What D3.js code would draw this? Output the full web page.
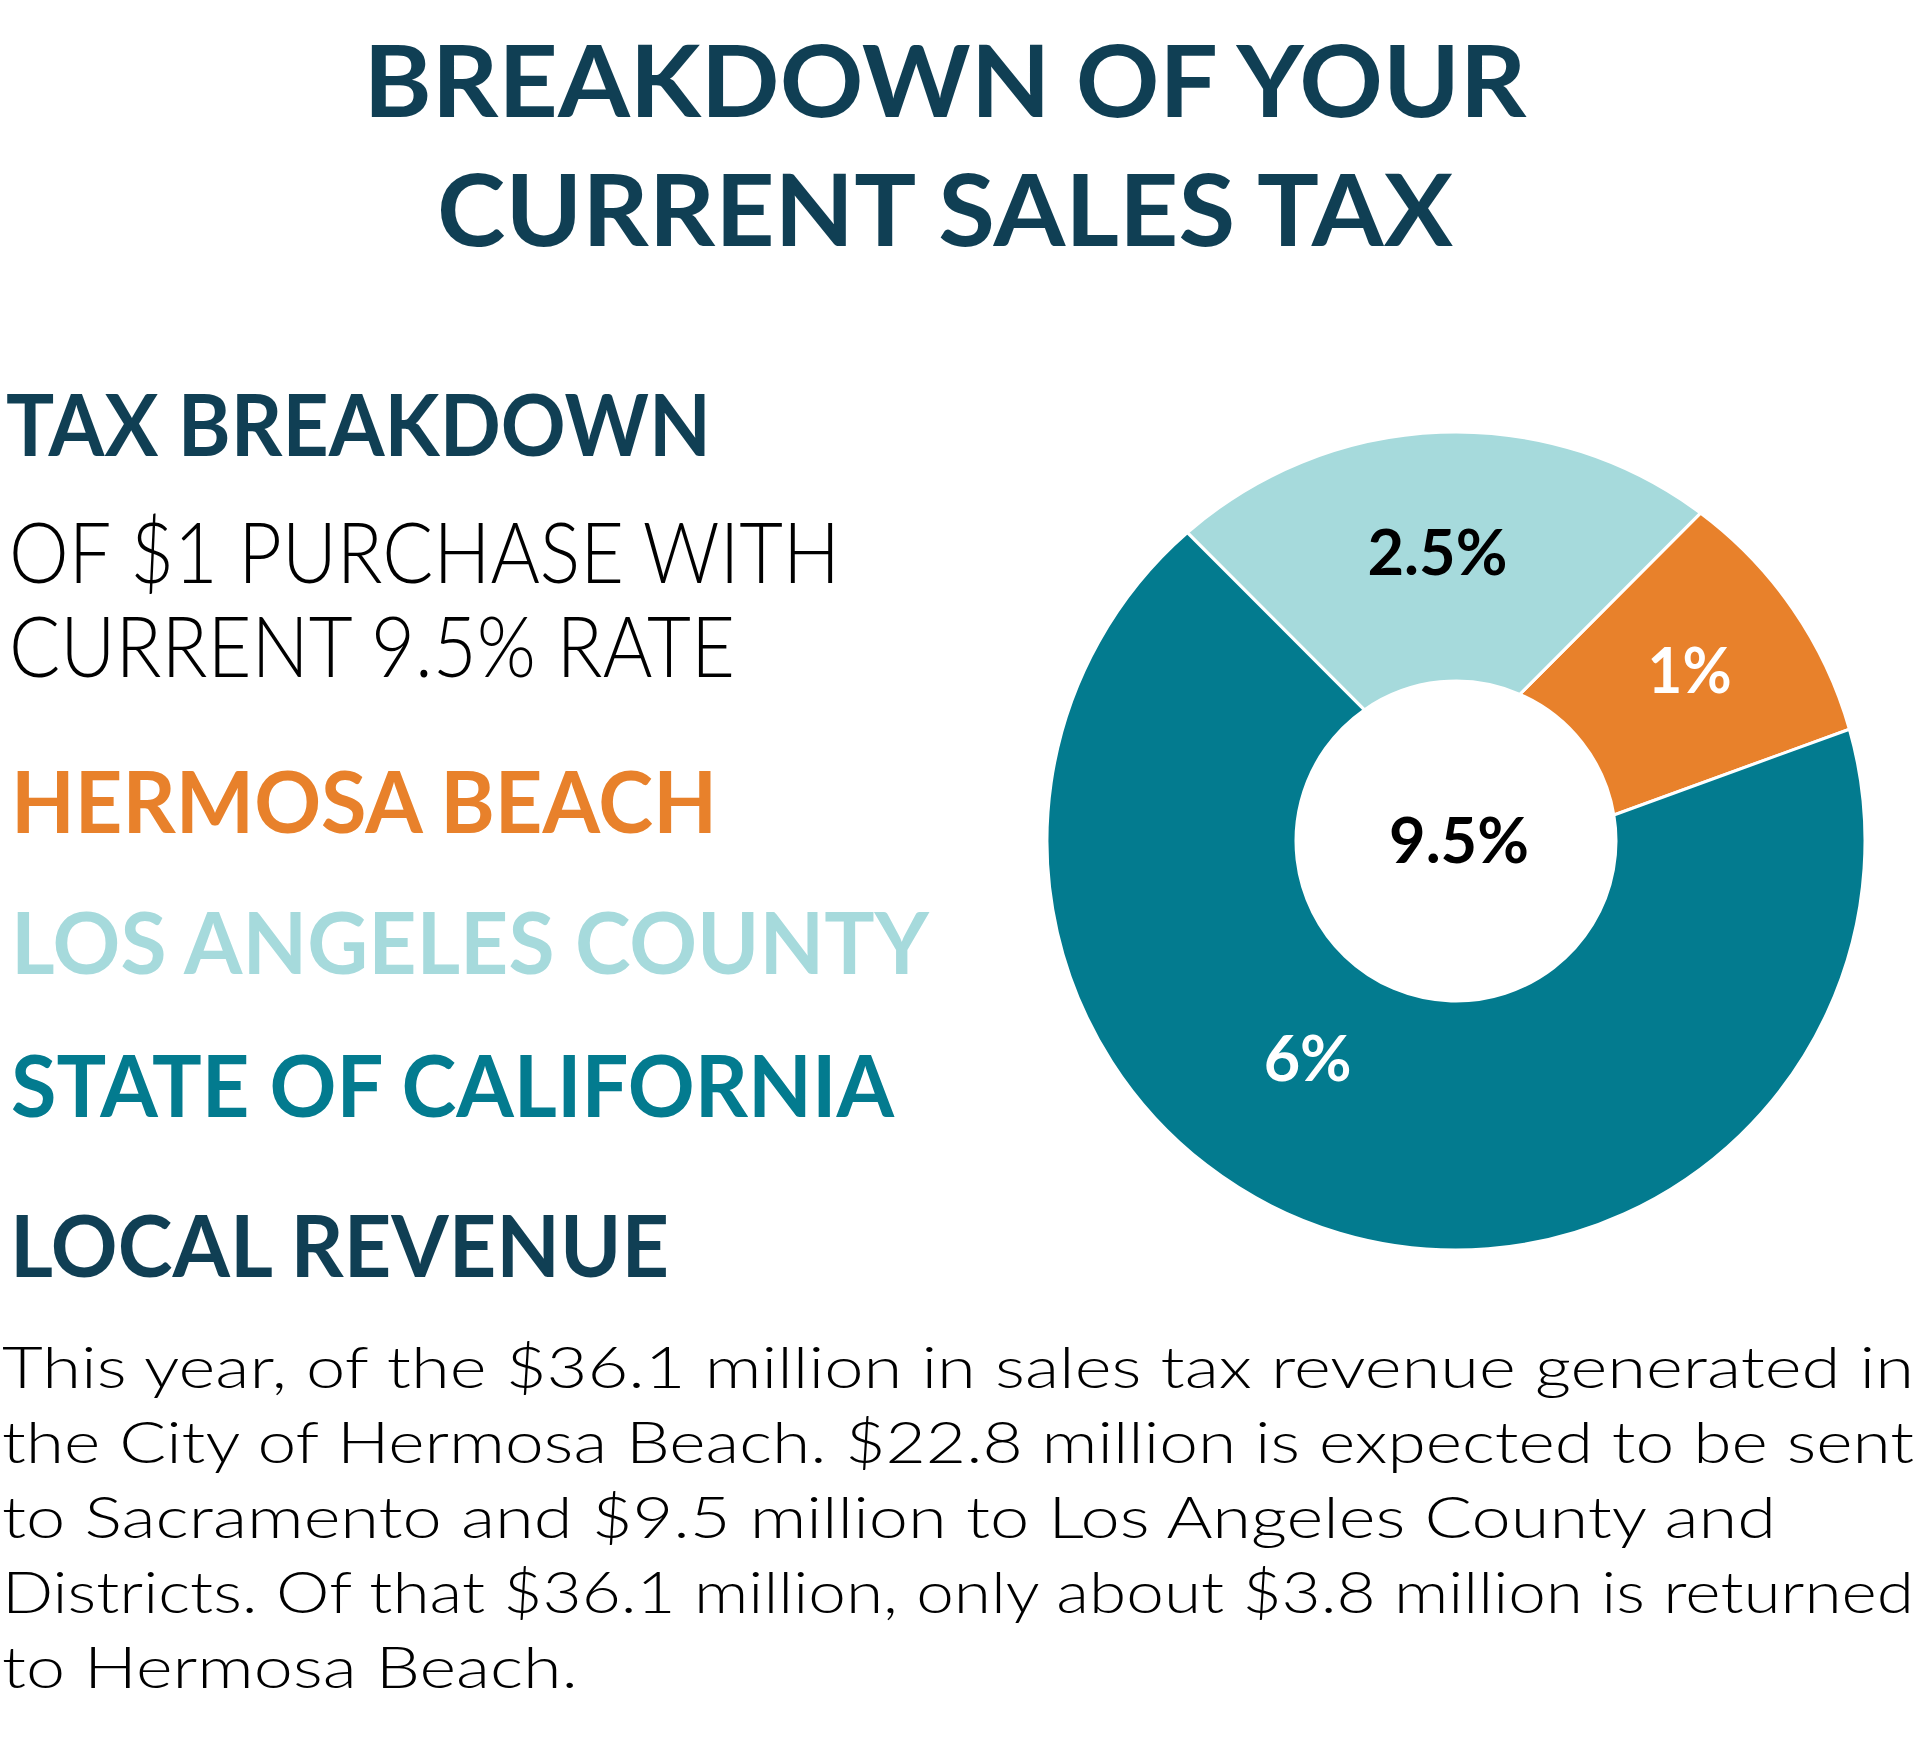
<!DOCTYPE html>
<html>
<head>
<meta charset="utf-8">
<script src="https://cdn.jsdelivr.net/npm/d3@7"></script>
<style>
    body { margin: 0; background: #ffffff; }
    svg { display: block; }
    text { font-family: Lato, "Open Sans", sans-serif; }
</style>
</head>
<body>
<svg id="chart"></svg>
<script>
// data
const categories = ["Hermosa Beach", "Los Angeles County", "State of California"];
const rateLabels = ["1%", "2.5%", "6%"];
// share of the ring each slice takes at its outer edge, as drawn (percent of full circle)
const sliceShares = [10.4, 21.6, 68.0];
const totalRate = "9.5%";
const sliceColors = ["#e8812b", "#a6dadc", "#037b8f"];
const labelColors = ["#ffffff", "#000000", "#ffffff"];
// order of slices going clockwise round the ring
const drawOrder = ["Hermosa Beach", "State of California", "Los Angeles County"];

const titleLines = ["BREAKDOWN OF YOUR", "CURRENT SALES TAX"];
const legendTitle = "TAX BREAKDOWN";
const legendSubLines = ["OF $1 PURCHASE WITH", "CURRENT 9.5% RATE"];
const legendNames = ["HERMOSA BEACH", "LOS ANGELES COUNTY", "STATE OF CALIFORNIA"];
const revenueTitle = "LOCAL REVENUE";
const revenueLines = [
    "This year, of the $36.1 million in sales tax revenue generated in",
    "the City of Hermosa Beach. $22.8 million is expected to be sent",
    "to Sacramento and $9.5 million to Los Angeles County and",
    "Districts. Of that $36.1 million, only about $3.8 million is returned",
    "to Hermosa Beach."
];

const W = 1920, H = 1757;
const navy = "#103f54";

const svg = d3.select("#chart").attr("width", W).attr("height", H);

// helper: put one line of text, squeezed to the width it has in the picture
function addText(g, str, x, y, size, weight, color, len, anchor) {
    return g.append("text")
        .attr("x", x)
        .attr("y", y)
        .attr("font-size", size)
        .attr("font-weight", weight)
        .attr("fill", color)
        .attr("text-anchor", anchor || "start")
        .attr("textLength", len)
        .attr("lengthAdjust", "spacingAndGlyphs")
        .text(str);
}

// Title
const title = svg.append("g").attr("class", "title");
addText(title, titleLines[0], 945, 117, 99, 700, navy, 1163, "middle");
addText(title, titleLines[1], 945, 246, 99, 700, navy, 1016, "middle");

// Left column: legend
const legend = svg.append("g").attr("class", "legend");
addText(legend, legendTitle, 6, 456, 86, 700, navy, 705);
addText(legend, legendSubLines[0], 9, 583, 84, 300, "#000000", 831);
addText(legend, legendSubLines[1], 9, 677, 84, 300, "#000000", 726);

const legendBase = [833, 974, 1117];
const legendLen = [706, 918, 883];
legendNames.forEach(function (name, i) {
    addText(legend, name, 11, legendBase[i], 86, 700, sliceColors[i], legendLen[i]);
});

// Local revenue paragraph
const revenue = svg.append("g").attr("class", "revenue");
addText(revenue, revenueTitle, 10, 1277, 86, 700, navy, 659);
const bodyLen = [1912, 1912, 1774, 1912, 576];
revenueLines.forEach(function (line, i) {
    addText(revenue, line, 2, 1388 + i * 75, 58, 300, "#000000", bodyLen[i]);
});

// Donut
const cx = 1456, cy = 841;
const outerR = 409, innerR = 160;
const rad = Math.PI / 180;

const slices = categories.map(function (c, i) {
    return { name: c, share: sliceShares[i], color: sliceColors[i], label: rateLabels[i], labelColor: labelColors[i] };
});

const startDeg = 36.7;
const pie = d3.pie()
    .value(d => d.share)
    .sort((a, b) => drawOrder.indexOf(a.name) - drawOrder.indexOf(b.name))
    .startAngle(startDeg * rad)
    .endAngle(startDeg * rad + 2 * Math.PI);

const arcs = pie(slices);

// the dividing lines in the picture are not quite radial: at the hole
// each one sits a few degrees off from where it meets the outer edge
const innerSkew = { "Hermosa Beach": -13.2, "State of California": 6.5, "Los Angeles County": 6.1 };

function slicePath(d) {
    // the slice that follows clockwise shares this slice's end edge
    var nextName = drawOrder[(drawOrder.indexOf(d.data.name) + 1) % drawOrder.length];
    var a0o = d.startAngle - Math.PI / 2;
    var a1o = d.endAngle - Math.PI / 2;
    var a0i = a0o + innerSkew[d.data.name] * rad;
    var a1i = a1o + innerSkew[nextName] * rad;
    var p = d3.path();
    p.arc(0, 0, outerR, a0o, a1o);
    p.arc(0, 0, innerR, a1i, a0i, true);
    p.closePath();
    return p.toString();
}

const donut = svg.append("g")
    .attr("class", "donut")
    .attr("transform", "translate(" + cx + "," + cy + ")");

donut.selectAll("path.slice")
    .data(arcs)
    .join("path")
    .attr("class", "slice")
    .attr("d", slicePath)
    .attr("fill", d => d.data.color)
    .attr("stroke", "#ffffff")
    .attr("stroke-width", 3)
    .attr("stroke-linejoin", "miter");

// labels sit on a ring; the state label is pushed round a bit like in the picture
const labelShift = { "State of California": { da: 17.8, r: 263 } };
const labelLen = { "1%": 84, "2.5%": 140, "6%": 88 };
donut.selectAll("text.rate")
    .data(arcs)
    .join("text")
    .attr("class", "rate")
    .attr("transform", function (d) {
        var s = labelShift[d.data.name] || { da: -1.5, r: 289 };
        var a = (d.startAngle + d.endAngle) / 2 + s.da * rad;
        var la = d3.arc().innerRadius(s.r).outerRadius(s.r).startAngle(a).endAngle(a);
        var p = la.centroid();
        return "translate(" + p[0] + "," + p[1] + ")";
    })
    .attr("dy", "0.35em")
    .attr("text-anchor", "middle")
    .attr("font-size", 64)
    .attr("font-weight", 700)
    .attr("fill", d => d.data.labelColor)
    .attr("textLength", d => labelLen[d.data.label])
    .attr("lengthAdjust", "spacingAndGlyphs")
    .text(d => d.data.label);

donut.append("text")
    .attr("class", "total")
    .attr("x", 3)
    .attr("y", 0)
    .attr("dy", "0.35em")
    .attr("text-anchor", "middle")
    .attr("font-size", 64)
    .attr("font-weight", 700)
    .attr("fill", "#000000")
    .attr("textLength", 140)
    .attr("lengthAdjust", "spacingAndGlyphs")
    .text(totalRate);
</script>
</body>
</html>
